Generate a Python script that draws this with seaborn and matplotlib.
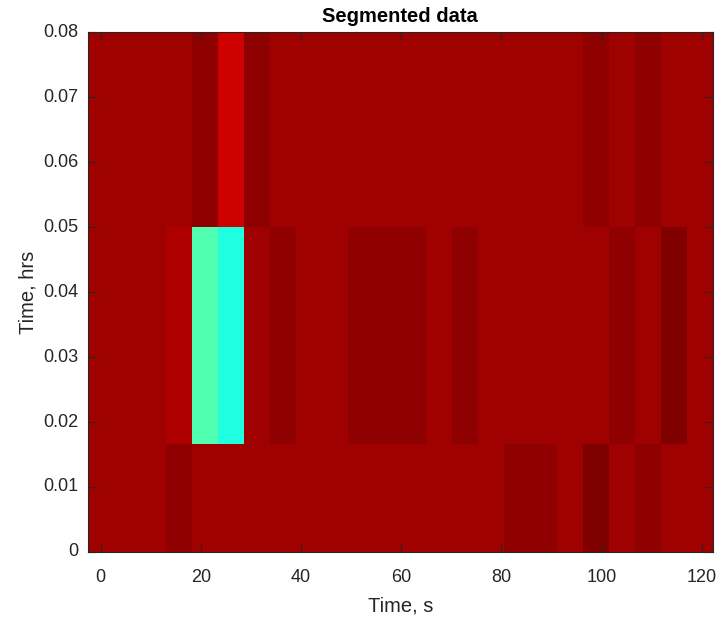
import numpy as np
import pandas as pd
import matplotlib
matplotlib.use('Agg')
import matplotlib.pyplot as plt
import seaborn as sns
from matplotlib.colors import ListedColormap

# данные: центры ячеек по времени и значения сегментов
time_s = [0, 5.2, 10.4, 15.6, 20.8, 26.0, 31.2, 36.4, 41.6, 46.8, 52.0, 57.2,
          62.4, 67.6, 72.8, 78.0, 83.2, 88.4, 93.6, 98.8, 104.0, 109.2, 114.4, 119.6]
time_hrs = [0, 0.0333, 0.0667]

row_0 = [0.96, 0.96, 0.96, 0.975, 0.96, 0.96, 0.96, 0.96, 0.96, 0.96, 0.96, 0.96,
         0.96, 0.96, 0.96, 0.96, 0.975, 0.975, 0.96, 0.99, 0.96, 0.975, 0.96, 0.96]
row_1 = [0.96, 0.96, 0.96, 0.945, 0.445, 0.40, 0.96, 0.975, 0.96, 0.96, 0.975, 0.975,
         0.975, 0.96, 0.975, 0.96, 0.96, 0.96, 0.96, 0.96, 0.975, 0.96, 0.99, 0.96]
row_2 = [0.96, 0.96, 0.96, 0.96, 0.975, 0.915, 0.975, 0.96, 0.96, 0.96, 0.96, 0.96,
         0.96, 0.96, 0.96, 0.96, 0.96, 0.96, 0.96, 0.975, 0.96, 0.975, 0.96, 0.96]

x_ticks = [0, 20, 40, 60, 80, 100, 120]
y_ticks = [0, 0.01, 0.02, 0.03, 0.04, 0.05, 0.06, 0.07, 0.08]


def matlab_jet(n=64):
    # палитра jet как в matlab
    m = int(np.ceil(n / 4))
    u = np.concatenate([np.arange(1, m + 1) / m, np.ones(m - 1), np.arange(m, 0, -1) / m])
    g = int(np.ceil(m / 2)) - (1 if n % 4 == 1 else 0) + np.arange(1, len(u) + 1)
    r = g + m
    b = g - m
    J = np.zeros((n, 3))
    J[r[r <= n] - 1, 0] = u[r <= n]
    J[g[g <= n] - 1, 1] = u[g <= n]
    J[b[b >= 1] - 1, 2] = u[b >= 1]
    return ListedColormap(J)


df = pd.DataFrame([row_0, row_1, row_2], index=time_hrs, columns=time_s)

fig = plt.figure(figsize=(7.18, 6.18), dpi=100)
ax = fig.add_axes([0.1219, 0.1068, 0.8711, 0.8414])
sns.heatmap(df, cmap=matlab_jet(64), vmin=0, vmax=1, cbar=False, ax=ax)

# пересчет значений осей в координаты ячеек
dx = time_s[1] - time_s[0]
dy = time_hrs[1] - time_hrs[0]
ax.set_xlim(0, len(time_s))
ax.set_ylim((0 - time_hrs[0]) / dy + 0.5, (0.08 - time_hrs[0]) / dy + 0.5)
ax.set_xticks([(v - time_s[0]) / dx + 0.5 for v in x_ticks], [str(v) for v in x_ticks], rotation=0)
ax.set_yticks([(v - time_hrs[0]) / dy + 0.5 for v in y_ticks], ['0'] + [f'{v:.2f}' for v in y_ticks[1:]], rotation=0)
ax.set_axisbelow(False)

fc = '#262626'
for s in ax.spines.values():
    s.set_visible(True)
    s.set_color(fc)
    s.set_linewidth(0.8)
ax.tick_params(direction='in', length=6, width=0.8, color=fc, labelcolor=fc,
               top=True, right=True, labelsize=13)
ax.tick_params(axis='x', pad=12.5)
ax.tick_params(axis='y', pad=6.5)
for lab in ax.get_xticklabels() + ax.get_yticklabels():
    lab.set_family('Liberation Sans')

ax.set_xlabel('Time, s', fontsize=14.5, color=fc, family='Liberation Sans')
ax.set_ylabel('Time, hrs', fontsize=14.5, color=fc, family='Liberation Sans')
ax.xaxis.set_label_coords(0.5, -0.085)
ax.yaxis.set_label_coords(-0.08, 0.5)
ax.set_title('Segmented data', fontsize=14.5, fontweight='bold', color='black',
             family='Liberation Sans', pad=7.5)

fig.savefig('out.png', dpi=100, facecolor='white')
